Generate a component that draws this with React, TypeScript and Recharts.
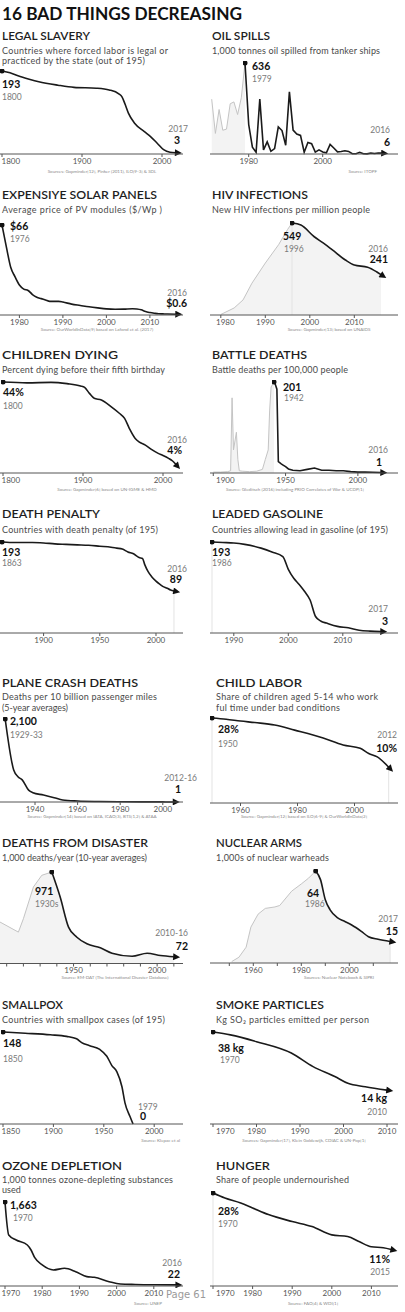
import React from "react";
import { ComposedChart, Line, Area, XAxis, YAxis, ReferenceLine } from "recharts";

const FONT = "Lato, 'Noto Sans', sans-serif";

// ---- data ----
const slaveryYears = [1800, 1810, 1820, 1834, 1846, 1870, 1890, 1918, 1934, 1946, 1950, 1954, 1958, 1966, 1978, 1986, 1994, 2002, 2010, 2017];
const slaveryVals = [193, 189, 182, 174, 168, 160, 155, 153, 149, 140, 133, 115, 95, 71, 52, 40, 25, 10, 4, 3];

const oilPreYears = [1970, 1971, 1972, 1973, 1974, 1975, 1976, 1977, 1978, 1979];
const oilPreVals = [383, 144, 311, 166, 174, 351, 364, 276, 393, 636];
const oilYears = [1979, 1980, 1981, 1982, 1983, 1984, 1985, 1986, 1987, 1988, 1989, 1990, 1991, 1992, 1993, 1994, 1995, 1996, 1997, 1998, 1999, 2000, 2001, 2002, 2003, 2004, 2005, 2006, 2007, 2008, 2009, 2010, 2011, 2012, 2013, 2014, 2015, 2016];
const oilVals = [636, 206, 48, 12, 384, 29, 85, 19, 38, 190, 164, 61, 434, 167, 140, 130, 12, 80, 72, 13, 29, 14, 8, 67, 42, 15, 17, 23, 18, 2, 2, 12, 2, 1, 7, 4, 7, 6];

const solarYears = [1976, 1977, 1978, 1979, 1980, 1981, 1982, 1983, 1984, 1985, 1986, 1987, 1988, 1989, 1990, 1992, 1994, 1996, 1998, 2000, 2002, 2004, 2006, 2007, 2008, 2009, 2010, 2011, 2012, 2013, 2014, 2016];
const solarVals = [66, 50, 35, 28, 22, 19, 18, 15, 13, 12, 11, 10, 10, 10, 9.5, 8, 7, 6, 5.2, 4.5, 4.2, 4.3, 4.6, 4.4, 3.8, 2.5, 1.8, 1.3, 0.9, 0.8, 0.7, 0.6];

const hivPreYears = [1980, 1983, 1985, 1987, 1990, 1993, 1995, 1996];
const hivPreVals = [3, 42, 90, 190, 310, 420, 510, 549];
const hivYears = [1996, 1998, 2001, 2003, 2005, 2008, 2010, 2013, 2015, 2016];
const hivVals = [549, 537, 467, 430, 390, 328, 298, 285, 258, 241];

const childYears = [1800, 1830, 1860, 1880, 1897, 1902, 1908, 1914, 1923, 1935, 1945, 1952, 1958, 1965, 1970, 1978, 1986, 1994, 2000, 2007, 2012, 2016];
const childVals = [44, 43.6, 43.8, 43.2, 42.1, 41.4, 38.5, 36.1, 35.3, 32.1, 29, 26.4, 21.5, 16.8, 15, 13.5, 11.3, 9.5, 8.5, 7.1, 5.8, 4.2];

const battlePreYears = [1900, 1905, 1910, 1912, 1913, 1914, 1916, 1917, 1918, 1920, 1925, 1930, 1934, 1936, 1938, 1939, 1940, 1942];
const battlePreVals = [2, 2, 3, 5, 166, 51, 90, 30, 5, 4, 3, 4, 8, 30, 51, 139, 190, 201];
const battleYears = [1942, 1943, 1944, 1945, 1947, 1948, 1950, 1952, 1955, 1960, 1965, 1970, 1975, 1980, 1985, 1990, 1995, 2000, 2005, 2010, 2016];
const battleVals = [201, 195, 185, 25, 20, 18, 14, 9, 6, 5, 8, 11, 6, 6, 5, 5, 3, 2, 2, 1.5, 1];

const deathYears = [1863, 1870, 1880, 1890, 1900, 1910, 1920, 1930, 1940, 1950, 1960, 1965, 1970, 1975, 1980, 1985, 1988, 1990, 1993, 1996, 2000, 2003, 2006, 2010, 2013, 2016];
const deathVals = [193, 192, 192, 192, 191, 189, 188, 187, 186, 184, 182, 180, 178, 172, 168, 160, 158, 145, 130, 120, 110, 104, 99, 95, 91, 89];

const leadYears = [1986, 1988, 1990, 1992, 1995, 1997, 1999, 2000, 2001, 2002, 2003, 2004, 2005, 2006, 2007, 2009, 2011, 2013, 2015, 2017];
const leadVals = [193, 192, 191, 188, 180, 172, 162, 135, 116, 103, 88, 70, 35, 25, 21, 14, 11, 6, 4, 3];

const planeYears = [1926, 1930, 1932, 1934, 1937, 1939, 1944, 1949, 1953, 1960, 1970, 1980, 1990, 2000, 2005];
const planeVals = [2100, 810, 640, 560, 300, 235, 177, 109, 50, 25, 12, 6, 3, 2, 1];

const laborYears = [1950, 1955, 1960, 1965, 1972, 1979, 1989, 1996, 2002, 2005, 2008, 2012];
const laborVals = [28, 27.6, 27, 26.5, 25.7, 24, 21.4, 19.1, 18, 16.3, 15.2, 11.8];

const disasterPreYears = [1906, 1917, 1920, 1926, 1931, 1937];
const disasterPreVals = [440, 333, 475, 812, 936, 971];
const disasterYears = [1937, 1942, 1947, 1952, 1958, 1966, 1973, 1985, 1994, 2002, 2010];
const disasterVals = [971, 705, 386, 279, 209, 166, 109, 77, 109, 85, 72];

const nukePreYears = [1951, 1954, 1957, 1958, 1959, 1962, 1965, 1969, 1971, 1976, 1980, 1983, 1986];
const nukePreVals = [1, 4, 11, 18, 25, 34, 38, 39, 40, 50, 55, 59, 64];
const nukeYears = [1986, 1988, 1990, 1992, 1995, 1998, 2001, 2005, 2008, 2012, 2017];
const nukeVals = [64, 58, 44, 37, 31.5, 29, 26.4, 22, 18.3, 16.5, 15];

const poxYears = [1850, 1872, 1897, 1913, 1923, 1928, 1936, 1946, 1953, 1958, 1963, 1968, 1971, 1976, 1979];
const poxVals = [148, 146, 143.5, 141, 137, 131, 126, 120, 109, 94, 84, 60, 34, 12, 0];

const smokeYears = [1970, 1974, 1980, 1988, 1993, 1998, 2001, 2005, 2010];
const smokeVals = [38, 36.8, 34, 29.3, 23.7, 19.6, 16.8, 15.4, 14];

const ozoneYears = [1970, 1971, 1973, 1976, 1977, 1978, 1980, 1983, 1986, 1989, 1992, 1994, 1998, 2001, 2005, 2010, 2016];
const ozoneVals = [1663, 1010, 910, 812, 713, 560, 416, 317, 350, 284, 185, 172, 86, 40, 30, 24, 22];

const hungerYears = [1970, 1973, 1977, 1980, 1984, 1990, 1995, 2000, 2004, 2007, 2010, 2013, 2015];
const hungerVals = [28, 26.5, 25, 23.5, 21.5, 19.4, 17.9, 15.4, 14.9, 13.3, 11.8, 11.5, 11];

// tick labels
const ticks1800 = [1800, 1900, 2000];
const ticksOil = [1980, 2000];
const ticksDecades = [1980, 1990, 2000, 2010];
const ticksHalf = [1900, 1950, 2000];
const ticksLead = [1990, 2000, 2010];
const ticksPlane = [1940, 1960, 1980, 2000];
const ticksLabor = [1960, 1980, 2000];
const ticksDisaster = [1910, 1920, 1930, 1940, 1950, 1960, 1970, 1980, 1990, 2000, 2010];
const labelsDisaster = [1950, 2000];
const ticksNuke = [1950, 1960, 1970, 1980, 1990, 2000, 2010];
const labelsNuke = [1960, 1980, 2000];
const ticksPox = [1850, 1900, 1950, 2000];
const ticks1970 = [1970, 1980, 1990, 2000, 2010];

type Pt = { x: number; v: number };
const zip = (xs: number[], vs: number[]): Pt[] => xs.map((x, i) => ({ x, v: vs[i] }));

type Lbl = { t: string; x: number; y: number; end?: boolean; bold?: boolean };
type Panel = {
  col: 0 | 1;
  top: number;
  axis: number;
  ymax: number;
  ay: number;
  ax: number;
  s: number;
  ticks: number[];
  labels?: number[];
  pre?: Pt[];
  post: Pt[];
  fill?: "pre" | "all";
  curve?: "linear" | "monotone";
  noArrow?: boolean;
  vlines?: number[];
  title: [string, number, number, number];
  subs: [string, number, number, number?][];
  texts: Lbl[];
  source?: [string, number, number, "middle" | "end"];
};

const panels: Panel[] = [
  {
    col: 0, top: 71, axis: 154, ymax: 193, ay: 1800, ax: 2, s: 0.8, ticks: ticks1800,
    post: zip(slaveryYears, slaveryVals),
    title: ["LEGAL SLAVERY", 2, 40, 88],
    subs: [["Countries where forced labor is legal or", 2, 54, 166], ["practiced by the state (out of 195)", 2, 63.5, 143]],
    texts: [
      { t: "193", x: 2, y: 87.5, bold: true }, { t: "1800", x: 2, y: 100 },
      { t: "2017", x: 188, y: 131.5, end: true }, { t: "3", x: 180, y: 143.5, end: true, bold: true },
    ],
    source: ["Sources: Gapminder[12], Pinker (2011), ILO[9-3] & SDL", 102, 173, "middle"],
  },
  {
    col: 1, top: 63, axis: 154, ymax: 636, ay: 1979, ax: 245, s: 3.7, ticks: ticksOil, curve: "linear",
    pre: zip(oilPreYears, oilPreVals), post: zip(oilYears, oilVals), fill: "pre",
    title: ["OIL SPILLS", 212, 40, 58],
    subs: [["1,000 tonnes oil spilled from tanker ships", 212, 54, 168]],
    texts: [
      { t: "636", x: 252, y: 70, bold: true }, { t: "1979", x: 252, y: 81.5 },
      { t: "2016", x: 390, y: 133, end: true }, { t: "6", x: 390, y: 146, end: true, bold: true },
    ],
    source: ["Source: ITOPF", 377, 173, "end"],
  },
  {
    col: 0, top: 225, axis: 315, ymax: 66, ay: 1976, ax: 2, s: 4.35, ticks: ticksDecades,
    post: zip(solarYears, solarVals),
    title: ["EXPENSIYE SOLAR PANELS", 2, 199.3, 155],
    subs: [["Average price of PV modules ($/Wp )", 2, 213, 160]],
    texts: [
      { t: "$66", x: 10, y: 230, bold: true }, { t: "1976", x: 10, y: 241.7 },
      { t: "2016", x: 187, y: 296, end: true }, { t: "$0.6", x: 187, y: 307, end: true, bold: true },
    ],
    source: ["Source: OurWorldInData[9] based on Lafond et al. (2017)", 97, 331, "middle"],
  },
  {
    col: 1, top: 223, axis: 315, ymax: 549, ay: 1996, ax: 292, s: 4.45, ticks: ticksDecades,
    pre: zip(hivPreYears, hivPreVals), post: zip(hivYears, hivVals), fill: "all", vlines: [1996],
    title: ["HIV INFECTIONS", 212, 199.3, 96],
    subs: [["New HIV infections per million people", 212, 213, 158]],
    texts: [
      { t: "549", x: 283, y: 240, bold: true }, { t: "1996", x: 284, y: 251.7 },
      { t: "2016", x: 388, y: 251.7, end: true }, { t: "241", x: 388, y: 263, end: true, bold: true },
    ],
    source: ["Source: Gapminder[13] based on UNAIDS", 329, 331, "middle"],
  },
  {
    col: 0, top: 382, axis: 473, ymax: 44, ay: 1800, ax: 3, s: 0.8, ticks: ticks1800,
    post: zip(childYears, childVals),
    title: ["CHILDREN DYING", 2, 359, 116],
    subs: [["Percent dying before their fifth birthday", 2, 373, 163]],
    texts: [
      { t: "44%", x: 3, y: 396, bold: true }, { t: "1800", x: 3, y: 409 },
      { t: "2016", x: 187, y: 443, end: true }, { t: "4%", x: 182, y: 454, end: true, bold: true },
    ],
    source: ["Source: Gapminder[6] based on UN-IGME & HMD", 107, 491, "middle"],
  },
  {
    col: 1, top: 382, axis: 473, ymax: 201, ay: 1942, ax: 274, s: 1.446, ticks: ticksHalf, curve: "linear",
    pre: zip(battlePreYears, battlePreVals), post: zip(battleYears, battleVals), fill: "pre",
    title: ["BATTLE DEATHS", 212, 359, 95],
    subs: [["Battle deaths per 100,000 people", 212, 373, 136]],
    texts: [
      { t: "201", x: 283, y: 391, bold: true }, { t: "1942", x: 284, y: 400.5 },
      { t: "2016", x: 388, y: 452.7, end: true }, { t: "1", x: 382, y: 466, end: true, bold: true },
    ],
    source: ["Source: Gleditsch (2016) including PRIO Correlates of War & UCDP[1]", 295, 491, "middle"],
  },
  {
    col: 0, top: 542, axis: 633, ymax: 193, ay: 1863, ax: 2, s: 1.124, ticks: ticksHalf,
    post: zip(deathYears, deathVals), vlines: [2016],
    title: ["DEATH PENALTY", 2, 518, 98],
    subs: [["Countries with death penalty (of 195)", 2, 533, 156]],
    texts: [
      { t: "193", x: 2, y: 556, bold: true }, { t: "1863", x: 2, y: 566 },
      { t: "2016", x: 187, y: 572, end: true }, { t: "89", x: 182, y: 583, end: true, bold: true },
    ],
  },
  {
    col: 1, top: 542, axis: 633, ymax: 193, ay: 1986, ax: 212, s: 5.45, ticks: ticksLead,
    post: zip(leadYears, leadVals), vlines: [1986],
    title: ["LEADED GASOLINE", 212, 518, 111],
    subs: [["Countries allowing lead in gasoline (of 195)", 212, 533, 176]],
    texts: [
      { t: "193", x: 212, y: 556, bold: true }, { t: "1986", x: 212, y: 566 },
      { t: "2017", x: 388, y: 611.7, end: true }, { t: "3", x: 388, y: 625, end: true, bold: true },
    ],
  },
  {
    col: 0, top: 719, axis: 802, ymax: 2100, ay: 1940, ax: 35, s: 2.13, ticks: ticksPlane,
    post: zip(planeYears, planeVals),
    title: ["PLANE CRASH DEATHS", 2, 687, 136],
    subs: [["Deaths per 10 billion passenger miles", 2, 700, 155], ["(5-year averages)", 2, 710.5, 66]],
    texts: [
      { t: "2,100", x: 10, y: 724.5, bold: true }, { t: "1929-33", x: 10, y: 738 },
      { t: "2012-16", x: 197, y: 781, end: true }, { t: "1", x: 181, y: 793, end: true, bold: true },
    ],
    source: ["Source: Gapminder[14] based on IATA, ICAO[3], BTS[1,2] & ATAA", 92, 818, "middle"],
  },
  {
    col: 1, top: 718, axis: 803, ymax: 28, ay: 1950, ax: 212, s: 2.85, ticks: ticksLabor,
    post: zip(laborYears, laborVals), vlines: [1950, 2012],
    title: ["CHILD LABOR", 216, 687, 86],
    subs: [["Share of children aged 5-14 who work", 216, 700, 162], ["ful time under bad conditions", 216, 711, 124]],
    texts: [
      { t: "28%", x: 218, y: 733, bold: true }, { t: "1950", x: 218, y: 747 },
      { t: "2012", x: 397, y: 738, end: true }, { t: "10%", x: 397, y: 752, end: true, bold: true },
    ],
    source: ["Source: Gapminder[12] based on ILO[6-9] & OurWorldInData[2]", 304, 818, "middle"],
  },
  {
    col: 0, top: 871.5, axis: 963, ymax: 971, ay: 1950, ax: 73, s: 1.68, ticks: ticksDisaster, labels: labelsDisaster,
    pre: zip(disasterPreYears, disasterPreVals), post: zip(disasterYears, disasterVals), fill: "all",
    title: ["DEATHS FROM DISASTER", 2, 847, 146],
    subs: [["1,000 deaths/year (10-year averages)", 2, 861, 145]],
    texts: [
      { t: "971", x: 35, y: 895, bold: true }, { t: "1930s", x: 35, y: 907 },
      { t: "2010-16", x: 188, y: 936, end: true }, { t: "72", x: 188, y: 950, end: true, bold: true },
    ],
    source: ["Source: EM-DAT (The International Disaster Database)", 115, 979, "middle"],
  },
  {
    col: 1, top: 871, axis: 963, ymax: 64, ay: 1986, ax: 315.7, s: 2.4, ticks: ticksNuke, labels: labelsNuke,
    pre: zip(nukePreYears, nukePreVals), post: zip(nukeYears, nukeVals), fill: "all", vlines: [2017],
    title: ["NUCLEAR ARMS", 216, 847, 86],
    subs: [["1,000s of nuclear warheads", 216, 861, 113]],
    texts: [
      { t: "64", x: 307, y: 897, bold: true }, { t: "1986", x: 305, y: 907 },
      { t: "2017", x: 398, y: 922, end: true }, { t: "15", x: 398, y: 935, end: true, bold: true },
    ],
    source: ["Sources: Nuclear Notebook & SIPRI", 339, 979, "middle"],
  },
  {
    col: 0, top: 1032, axis: 1124, ymax: 148, ay: 1850, ax: 3, s: 1.008, ticks: ticksPox, noArrow: true,
    post: zip(poxYears, poxVals),
    title: ["SMALLPOX", 2, 1009, 61],
    subs: [["Countries with smallpox cases (of 195)", 2, 1023, 163]],
    texts: [
      { t: "148", x: 3, y: 1047, bold: true }, { t: "1850", x: 3, y: 1062 },
      { t: "1979", x: 138, y: 1110 }, { t: "0", x: 140, y: 1120, bold: true },
    ],
    source: ["Source: Klepac et al", 180, 1142, "end"],
  },
  {
    col: 1, top: 1032, axis: 1124, ymax: 38, ay: 1970, ax: 213, s: 4.35, ticks: ticks1970,
    post: zip(smokeYears, smokeVals),
    title: ["SMOKE PARTICLES", 216, 1009, 108],
    subs: [["Kg SO\u2082 particles emitted per person", 216, 1023, 153]],
    texts: [
      { t: "38 kg", x: 218, y: 1052, bold: true }, { t: "1970", x: 220, y: 1063 },
      { t: "14 kg", x: 387, y: 1102, end: true, bold: true }, { t: "2010", x: 387, y: 1115, end: true },
    ],
    source: ["Sources: Gapminder[17], Klein Goldewijk, CDIAC & UN-Pop[1]", 304, 1142, "middle"],
  },
  {
    col: 0, top: 1202, axis: 1286, ymax: 1663, ay: 1970, ax: 5, s: 3.72, ticks: ticks1970,
    post: zip(ozoneYears, ozoneVals),
    title: ["OZONE DEPLETION", 2, 1170, 120],
    subs: [["1,000 tonnes ozone-depleting substances", 2, 1183, 171], ["used", 2, 1193]],
    texts: [
      { t: "1,663", x: 10, y: 1209, bold: true }, { t: "1970", x: 13, y: 1221 },
      { t: "2016", x: 182, y: 1266, end: true }, { t: "22", x: 180, y: 1278, end: true, bold: true },
    ],
    source: ["Source: UNEP", 148, 1305, "middle"],
  },
  {
    col: 1, top: 1193, axis: 1286, ymax: 28, ay: 1970, ax: 213, s: 3.96, ticks: ticks1970,
    post: zip(hungerYears, hungerVals), vlines: [1970],
    title: ["HUNGER", 216, 1170, 54],
    subs: [["Share of people undernourished", 216, 1183, 133]],
    texts: [
      { t: "28%", x: 218, y: 1215, bold: true }, { t: "1970", x: 218, y: 1227 },
      { t: "11%", x: 390, y: 1263, end: true, bold: true }, { t: "2015", x: 390, y: 1275, end: true },
    ],
    source: ["Source: FAO[4] & WDI[1]", 313, 1305, "middle"],
  },
];

function valueAt(p: Panel, yr: number): number {
  const all = [...(p.pre ?? []), ...p.post];
  const hit = all.find((d) => d.x === yr);
  return hit ? hit.v : p.ymax;
}

// tick text; a label sitting on the panel's left edge is pushed inside it
const makeTick = (labels: number[], offset: number, edge: number) => (props: any) => {
  const { x, y, payload } = props;
  const v = payload.value;
  if (!labels.includes(v)) return <g />;
  const pageX = x + offset;
  const tooLeft = pageX < edge + 10;
  return (
    <text
      x={tooLeft ? x - pageX + edge : x}
      y={y}
      dy="0.71em"
      textAnchor={tooLeft ? "start" : "middle"}
      fontSize={8}
      fill="#555"
      fontFamily={FONT}
    >
      {v}
    </text>
  );
};

function MiniChart({ p }: { p: Panel }) {
  const L = p.col === 0 ? 0 : 210;
  const W = p.col === 0 ? 183 : 188;
  const d0 = p.ay - (p.ax - L) / p.s;
  const d1 = d0 + W / p.s;
  const labels = p.labels ?? p.ticks;
  const fillData = p.fill === "all" ? [...(p.pre ?? []).slice(0, -1), ...p.post] : p.pre;
  return (
    <div style={{ position: "absolute", left: L - 8, top: p.top - 8 }}>
      <ComposedChart width={W + 16} height={8 + (p.axis - p.top) + 20} margin={{ top: 8, right: 8, left: 8, bottom: 0 }}>
        <XAxis
          type="number"
          dataKey="x"
          domain={[d0, d1]}
          ticks={p.ticks}
          interval={0}
          height={20}
          tickSize={3}
          tickMargin={1}
          stroke="#555"
          tick={makeTick(labels, L - 8, p.col === 0 ? 1.5 : 216)}
        />
        <YAxis type="number" hide domain={[0, p.ymax]} />
        {p.fill && fillData && (
          <Area data={fillData} dataKey="v" type="linear" stroke="none" fill="#f3f3f3" fillOpacity={1} isAnimationActive={false} />
        )}
        {(p.vlines ?? []).map((yr) => (
          <ReferenceLine key={yr} segment={[{ x: yr, y: 0 }, { x: yr, y: valueAt(p, yr) }]} stroke="#e3e3e3" strokeWidth={1} />
        ))}
        {p.pre && (
          <Line data={p.pre} dataKey="v" type="linear" stroke="#c4c4c4" strokeWidth={1} dot={false} isAnimationActive={false} />
        )}
        <Line
          data={p.post}
          dataKey="v"
          type={p.curve ?? "monotone"}
          stroke="#1a1a1a"
          strokeWidth={1.6}
          dot={false}
          markerStart="url(#startDot)"
          markerEnd={p.noArrow ? undefined : "url(#arrowHead)"}
          isAnimationActive={false}
        />
      </ComposedChart>
    </div>
  );
}

function PanelText({ p }: { p: Panel }) {
  const [tt, tx, ty, tw] = p.title;
  return (
    <g fontFamily={FONT}>
      <text x={tx} y={ty} fontSize={11} fontWeight={600} fill="#1e1e1e" textLength={tw} lengthAdjust="spacingAndGlyphs">
        {tt}
      </text>
      {p.subs.map(([s, x, y, w], i) => (
        <text key={i} x={x} y={y} fontSize={9} fill="#4a4a4a" textLength={w} lengthAdjust={w ? "spacing" : undefined}>
          {s}
        </text>
      ))}
      {p.texts.map((l, i) => (
        <text
          key={"l" + i}
          x={l.x}
          y={l.y}
          textAnchor={l.end ? "end" : "start"}
          fontSize={l.bold ? 10.5 : 8.5}
          fontWeight={l.bold ? 700 : 400}
          fill={l.bold ? "#111" : "#7a7a7a"}
        >
          {l.t}
        </text>
      ))}
      {p.source && (
        <text x={p.source[1]} y={p.source[2]} textAnchor={p.source[3]} fontSize={4.5} fill="#8a8a8a">
          {p.source[0]}
        </text>
      )}
    </g>
  );
}

export default function App() {
  return (
    <div style={{ position: "absolute", left: 0, top: 0, width: 405, height: 1312, background: "#fff", overflow: "hidden" }}>
      <svg width={1} height={1} style={{ position: "absolute", left: 0, top: 0 }}>
        <defs>
          <marker id="arrowHead" viewBox="0 0 10 10" refX={1} refY={5} markerWidth={8} markerHeight={7} markerUnits="userSpaceOnUse" orient="auto">
            <path d="M0,0 L10,5 L0,10 z" fill="#111" />
          </marker>
          <marker id="startDot" viewBox="0 0 10 10" refX={5} refY={5} markerWidth={5} markerHeight={5} markerUnits="userSpaceOnUse">
            <circle cx={5} cy={5} r={5} fill="#111" />
          </marker>
        </defs>
      </svg>
      {panels.map((p, i) => (
        <MiniChart key={i} p={p} />
      ))}
      <svg width={405} height={1312} style={{ position: "absolute", left: 0, top: 0, pointerEvents: "none" }}>
        <text x={2} y={20} fontFamily={FONT} fontSize={16.5} fontWeight={700} fill="#111" textLength={240} lengthAdjust="spacingAndGlyphs">
          16 BAD THINGS DECREASING
        </text>
        {panels.map((p, i) => (
          <PanelText key={i} p={p} />
        ))}
        <text x={166} y={1298} fontFamily="'DejaVu Sans', sans-serif" fontSize={10} fill="#9a9a9a" textLength={40}>
          Page 61
        </text>
      </svg>
    </div>
  );
}
